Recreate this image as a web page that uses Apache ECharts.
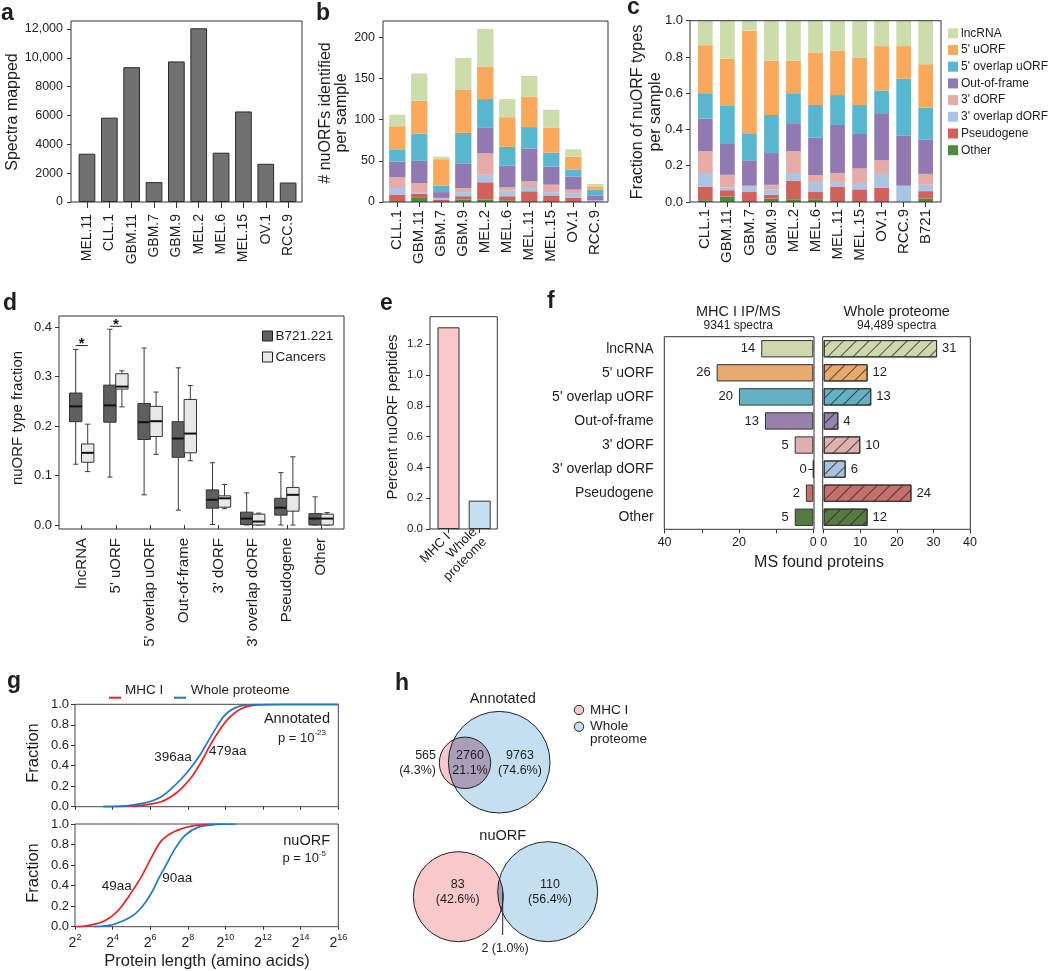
<!DOCTYPE html>
<html>
<head>
<meta charset="utf-8">
<script src="https://cdn.jsdelivr.net/npm/echarts@6.0.0/dist/echarts.min.js"></script>
<style>html,body{margin:0;padding:0;background:#fff;}#chart{width:1050px;height:971px;}</style>
</head>
<body>
<div id="chart"></div>
<script>
// ================= DATA =================
// (a) spectra mapped per sample
const samplesA = ['MEL.11','CLL.1','GBM.11','GBM.7','GBM.9','MEL.2','MEL.6','MEL.15','OV.1','RCC.9'];
const spectraMapped = [3350, 5850, 9350, 1380, 9750, 12050, 3420, 6280, 2650, 1350];
const ticksA = [0, 2000, 4000, 6000, 8000, 10000, 12000];

// nuORF types
const orfTypes = ['lncRNA', "5' uORF", "5' overlap uORF", 'Out-of-frame', "3' dORF", "3' overlap dORF", 'Pseudogene', 'Other'];

// (b) nuORFs identified per sample (counts by type)
const samplesB = ['CLL.1','GBM.11','GBM.7','GBM.9','MEL.2','MEL.6','MEL.11','MEL.15','OV.1','RCC.9'];
const countLnc    = [14, 33,  3, 39, 46, 22, 25, 22,  9, 3];
const count5u     = [28, 40, 32, 52, 39, 36, 37, 30, 16, 4];
const count5ov    = [15, 33,  8, 37, 35, 23, 26, 17,  8, 7];
const countOOF    = [19, 27,  7, 30, 31, 26, 40, 22, 16, 6];
const count3d     = [13, 11,  0,  5, 26,  4,  8,  9,  5, 0];
const count3ov    = [ 8,  2,  2,  5,  9,  7,  4,  4,  5, 2];
const countPseudo = [ 8,  5,  3,  4, 21,  5, 12,  8,  5, 0];
const countOther  = [ 1,  5,  0,  3,  3,  2,  1,  0,  0, 0];
const ticksB = [0, 50, 100, 150, 200];

// (c) fraction of nuORF types per sample
const samplesC = ['CLL.1','GBM.11','GBM.7','GBM.9','MEL.2','MEL.6','MEL.11','MEL.15','OV.1','RCC.9','B721'];
const fracLnc    = [0.135, 0.21, 0.055, 0.22, 0.22, 0.175, 0.165, 0.205, 0.14, 0.14, 0.24];
const frac5u     = [0.265, 0.26, 0.57, 0.30, 0.18, 0.29, 0.245, 0.26, 0.245, 0.18, 0.24];
const frac5ov    = [0.14, 0.21, 0.145, 0.21, 0.17, 0.18, 0.165, 0.16, 0.125, 0.315, 0.175];
const fracOOF    = [0.18, 0.17, 0.14, 0.175, 0.15, 0.207, 0.265, 0.19, 0.26, 0.275, 0.19];
const frac3d     = [0.12, 0.07, 0, 0.025, 0.12, 0.038, 0.05, 0.08, 0.075, 0, 0.06];
const frac3ov    = [0.075, 0.015, 0.035, 0.03, 0.042, 0.055, 0.025, 0.035, 0.077, 0.09, 0.035];
const fracPseudo = [0.075, 0.035, 0.055, 0.022, 0.103, 0.04, 0.08, 0.07, 0.078, 0, 0.04];
const fracOther  = [0.01, 0.03, 0, 0.018, 0.015, 0.015, 0.005, 0, 0, 0, 0.02];

// (d) boxplots [min, Q1, median, Q3, max]
const boxGroups = ['B721.221', 'Cancers'];
const boxB721 = [
  [0.123, 0.209, 0.240, 0.267, 0.355],
  [0.097, 0.208, 0.242, 0.283, 0.396],
  [0.061, 0.173, 0.208, 0.246, 0.358],
  [0.030, 0.137, 0.175, 0.209, 0.318],
  [0.001, 0.034, 0.051, 0.071, 0.126],
  [0.000, 0.001, 0.013, 0.026, 0.065],
  [0.000, 0.020, 0.035, 0.054, 0.106],
  [0.000, 0.000, 0.013, 0.023, 0.057]
];
const boxCancers = [
  [0.108, 0.127, 0.146, 0.164, 0.204],
  [0.239, 0.275, 0.280, 0.306, 0.312],
  [0.143, 0.179, 0.210, 0.240, 0.269],
  [0.130, 0.146, 0.185, 0.254, 0.282],
  [0.033, 0.036, 0.054, 0.059, 0.082],
  [0.000, 0.000, 0.007, 0.022, 0.024],
  [0.000, 0.028, 0.061, 0.076, 0.138],
  [0.000, 0.000, 0.013, 0.022, 0.025]
];
const sigMarks = [[0, 0.363], [1, 0.402]];   // [type index, bracket height]

// (e) percent nuORF peptides
const eCats = ['MHC I', 'Whole\nproteome'];
const eValues = [1.31, 0.184];
const ticksE = [0, 0.2, 0.4, 0.6, 0.8, 1.0, 1.2];

// (f) MS found proteins
const fMHC   = [14, 26, 20, 13, 5, 0, 2, 5];
const fWhole = [31, 12, 13, 4, 10, 6, 24, 12];
const fTitles = ['MHC I IP/MS', 'Whole proteome'];
const fSpectra = ['9341 spectra', '94,489 spectra'];

// (g) cumulative protein length distributions, x = log2(length)
const gAnnotMHC = [[3.5,0],[4.5,0.002],[5.2,0.008],[6,0.025],[6.61,0.05],[7.2,0.11],[7.67,0.18],[8.2,0.29],[8.56,0.39],[8.9,0.5],[9.09,0.57],[9.62,0.73],[10.15,0.86],[10.86,0.96],[11.7,0.995],[13,1],[16,1]];
const gAnnotWhole = [[3.5,0],[4.2,0.003],[4.84,0.01],[5.5,0.03],[6.08,0.056],[6.6,0.1],[7.14,0.18],[7.7,0.28],[8.2,0.39],[8.63,0.5],[8.91,0.586],[9.44,0.75],[9.97,0.895],[10.68,0.977],[11.57,0.998],[13,1],[16,1]];
const gNuMHC = [[2,0],[2.5,0.005],[3.06,0.025],[3.5,0.05],[3.95,0.1],[4.4,0.18],[4.84,0.29],[5.2,0.39],[5.54,0.49],[6.08,0.68],[6.61,0.84],[7.32,0.93],[8.2,0.98],[9.09,0.997],[10,1]];
const gNuWhole = [[3,0],[3.6,0.008],[4.13,0.026],[5.01,0.1],[5.4,0.16],[5.72,0.23],[6.1,0.34],[6.45,0.47],[6.78,0.58],[7.32,0.76],[7.85,0.89],[8.56,0.97],[9.44,0.995],[10.6,1]];
const gMedians = ['396aa', '479aa', '49aa', '90aa'];
const gPExp = ['-23', '-5'];
const gPanels = ['Annotated', 'nuORF'];

// (h) Venn counts
const vennTitles = ['Annotated', 'nuORF'];
const vennMHCOnly = [565, 83];
const vennBoth = [2760, 2];
const vennWholeOnly = [9763, 110];
const vennPctMHCOnly = ['(4.3%)', '(42.6%)'];
const vennPctBoth = ['21.1%', '(1.0%)'];
const vennPctWholeOnly = ['(74.6%)', '(56.4%)'];

// ================= STYLE / LAYOUT =================
const FONT = "'Liberation Sans', Arial, Helvetica, sans-serif";
const TXT = '#1e1e1e';
const AX = '#333';
const colBC = ['#cddcab', '#f8a95c', '#58b7cf', '#9179b2', '#e6aaa7', '#a9c5e3', '#d1625b', '#4f8b3f'];
const colF  = ['#cdd9ac', '#e8a96c', '#65b1c4', '#9682ad', '#e0b0ae', '#a9c2dd', '#c66f6b', '#567b40'];
const PINK = '#f8c8cb', BLUE = '#c3dff0', OVER = '#aa9fbb';

// Venn layout (grid units == px inside h grid)
const VENN_LAYOUT = [
  { pink: [85, 82.8, 25.7], blue: [119.2, 82.2, 50.8], title: [122.7, 19],
    mhcLbl: [56, 82.8, 'right'], bothLbl: [90, 82.8], wholeLbl: [140, 82.8], sep: '\n', leader: null },
  { pink: [78.3, 216.7, 45], blue: [167.7, 211.7, 50], title: [122.7, 156],
    mhcLbl: [77.7, 212.2, 'center'], bothLbl: [125, 268.3], wholeLbl: [170, 212.2], sep: ' ', leader: [[122.7, 211.7], [122.7, 255]] }
];

function T(x, y, text, size, o) {
  o = o || {};
  return {
    type: 'text', x: x, y: y, z: 120, silent: true, rotation: o.rot || 0,
    style: {
      text: text, fill: o.color || TXT, fontSize: size, fontFamily: FONT,
      fontWeight: o.bold ? 'bold' : 'normal',
      align: o.align || 'center', verticalAlign: o.va || 'middle',
      textAlign: o.align || 'center', textVerticalAlign: o.va || 'middle',
      lineHeight: o.lh, rich: o.rich
    }
  };
}
function F(x, y, w, h) {
  return { type: 'rect', z: 110, silent: true, shape: { x: x, y: y, width: w, height: h },
    style: { fill: 'rgba(0,0,0,0)', stroke: AX, lineWidth: 1 } };
}
function L(x1, y1, x2, y2, c, w) {
  return { type: 'line', z: 110, silent: true, shape: { x1: x1, y1: y1, x2: x2, y2: y2 },
    style: { stroke: c, lineWidth: w || 1 } };
}
function letter(x, base, ch) { return T(x, base + 5, ch, 23, { bold: true, align: 'left', va: 'bottom' }); }

function catAxis(gi, data, o) {
  return {
    type: 'category', gridIndex: gi, data: data, offset: o.offset || 0, inverse: !!o.inverse,
    position: o.position,
    axisLine: { show: false }, splitLine: { show: false },
    axisTick: { show: o.tick !== false, alignWithLabel: true, length: o.tickLen || 5, lineStyle: { color: AX } },
    axisLabel: { show: o.label !== false, rotate: o.rotate || 0, fontSize: o.fs || 13, fontFamily: FONT,
      color: TXT, margin: o.margin || 8, interval: 0, lineHeight: o.lh }
  };
}
function valAxis(gi, o) {
  const ax = {
    type: 'value', gridIndex: gi, min: o.min, max: o.max, offset: o.offset || 0, inverse: !!o.inverse,
    position: o.position,
    axisLine: { show: false }, splitLine: { show: false },
    axisTick: { show: o.tick !== false, length: o.tickLen || 4, lineStyle: { color: AX } },
    axisLabel: { show: o.label !== false, fontSize: o.fs || 12, fontFamily: FONT, color: TXT,
      margin: o.margin || 7, formatter: o.fmt, rich: o.rich }
  };
  if (o.interval != null) ax.interval = o.interval;
  if (o.ticks) ax.axisTick.customValues = o.ticks;
  if (o.labels) ax.axisLabel.customValues = o.labels;
  return ax;
}
const f1 = v => Number(v).toFixed(1);

// ================= GRIDS =================
const grids = [
  { left: 75.8, top: 21, width: 223.5, height: 181 },      // 0 a
  { left: 386.3, top: 21, width: 220, height: 181 },       // 1 b
  { left: 694.3, top: 20.7, width: 242.4, height: 181.3 }, // 2 c
  { left: 64.6, top: 327.3, width: 273.6, height: 197.7 }, // 3 d
  { left: 432.9, top: 316.7, width: 62.4, height: 212.3 }, // 4 e
  { left: 664.6, top: 336.7, width: 148.7, height: 192.6 },// 5 f left
  { left: 823.7, top: 336.7, width: 146.3, height: 192.6 },// 6 f right
  { left: 75, top: 704.3, width: 263.3, height: 102.4, show: true, borderColor: '#444', borderWidth: 1 }, // 7 g top
  { left: 75, top: 824, width: 263.3, height: 102.7, show: true, borderColor: '#444', borderWidth: 1 },   // 8 g bottom
  { left: 380, top: 680, width: 260, height: 280 }         // 9 h
];

const gRich = {
  b: { fontSize: 14, fontFamily: FONT, color: TXT, lineHeight: 17, verticalAlign: 'bottom' },
  s: { fontSize: 9, fontFamily: FONT, color: TXT, lineHeight: 9, verticalAlign: 'top' }
};

const xAxes = [
  catAxis(0, samplesA, { rotate: 90, fs: 14, margin: 12, tickLen: 6 }),
  catAxis(1, samplesB, { rotate: 90, fs: 15, margin: 8, tickLen: 5 }),
  catAxis(2, samplesC, { rotate: 90, fs: 15, margin: 7, tickLen: 5 }),
  catAxis(3, orfTypes, { rotate: 90, fs: 15, margin: 9, tickLen: 4, offset: 4 }),
  catAxis(4, eCats, { rotate: 45, fs: 13, margin: 6, tickLen: 4, lh: 14 }),
  valAxis(5, { min: 0, max: 40, inverse: true, ticks: [0, 10, 20, 30, 40], labels: [0, 20, 40], fs: 12.5, margin: 7 }),
  valAxis(6, { min: 0, max: 40, interval: 10, fs: 12.5, margin: 7 }),
  valAxis(7, { min: 2, max: 16, interval: 2, label: false, tickLen: 3 }),
  valAxis(8, { min: 2, max: 16, interval: 2, tickLen: 3, margin: 6, fmt: v => '{b|2}{s|' + v + '}', rich: gRich }),
  { type: 'value', gridIndex: 9, min: 0, max: 260, show: false }
];
const yAxes = [
  valAxis(0, { min: 0, max: 12555, ticks: ticksA, labels: ticksA, offset: 4.8, fs: 12.5, margin: 8,
    fmt: v => v >= 10000 ? Number(v).toLocaleString('en-US') : String(v) }),
  valAxis(1, { min: 0, max: 219.8, ticks: ticksB, labels: ticksB, offset: 3.3, fs: 12.5, margin: 8 }),
  valAxis(2, { min: 0, max: 1, interval: 0.2, offset: 4.3, fs: 13, margin: 7, fmt: f1 }),
  valAxis(3, { min: 0, max: 0.4, interval: 0.1, offset: 5.6, fs: 13, margin: 7, fmt: f1 }),
  valAxis(4, { min: 0, max: 1.379, ticks: ticksE, labels: ticksE, offset: 2.9, fs: 11.5, margin: 7, fmt: f1 }),
  catAxis(5, orfTypes, { inverse: true, fs: 14, margin: 11, tickLen: 5 }),
  catAxis(6, orfTypes, { inverse: true, label: false, tick: false }),
  valAxis(7, { min: 0, max: 1, interval: 0.2, fs: 13, margin: 6, fmt: f1 }),
  valAxis(8, { min: 0, max: 1, interval: 0.2, fs: 13, margin: 6, fmt: f1 }),
  { type: 'value', gridIndex: 9, min: 0, max: 280, inverse: true, show: false }
];

// ================= SERIES =================
const series = [];
// a
series.push({ type: 'bar', name: 'Spectra mapped', xAxisIndex: 0, yAxisIndex: 0, data: spectraMapped, barWidth: 16.7,
  itemStyle: { color: '#717171', borderColor: '#2a2a2a', borderWidth: 1 } });
// b (stack bottom -> top: Other ... lncRNA)
const countsB = [countLnc, count5u, count5ov, countOOF, count3d, count3ov, countPseudo, countOther];
for (let i = orfTypes.length - 1; i >= 0; i--) {
  series.push({ type: 'bar', name: orfTypes[i], stack: 'b', xAxisIndex: 1, yAxisIndex: 1, data: countsB[i],
    barWidth: 16.3, itemStyle: { color: colBC[i] } });
}
// c
const fracsC = [fracLnc, frac5u, frac5ov, fracOOF, frac3d, frac3ov, fracPseudo, fracOther];
for (let i = orfTypes.length - 1; i >= 0; i--) {
  series.push({ type: 'bar', name: orfTypes[i], stack: 'c', xAxisIndex: 2, yAxisIndex: 2, data: fracsC[i],
    barWidth: 14.7, itemStyle: { color: colBC[i] } });
}
// d boxplots (custom)
function boxRender(offset) {
  return function (params, api) {
    const idx = api.value(0);
    const v = [api.value(1), api.value(2), api.value(3), api.value(4), api.value(5)];
    const x = api.coord([idx, v[2]])[0] + offset;
    const y = v.map(val => api.coord([idx, val])[1]);
    const hw = 6.2, cap = 2.6;
    const ls = { stroke: '#3a3a3a', lineWidth: 1 };
    const fill = api.visual('color');
    return { type: 'group', children: [
      { type: 'line', shape: { x1: x, y1: y[4], x2: x, y2: y[0] }, style: ls },
      { type: 'line', shape: { x1: x - cap, y1: y[4], x2: x + cap, y2: y[4] }, style: ls },
      { type: 'line', shape: { x1: x - cap, y1: y[0], x2: x + cap, y2: y[0] }, style: ls },
      { type: 'rect', shape: { x: x - hw, y: y[3], width: 2 * hw, height: Math.max(y[1] - y[3], 0.5) },
        style: { fill: fill, stroke: '#333', lineWidth: 1 } },
      { type: 'line', shape: { x1: x - hw, y1: y[2], x2: x + hw, y2: y[2] }, style: { stroke: '#111', lineWidth: 2 } }
    ] };
  };
}
series.push({ type: 'custom', name: boxGroups[0], xAxisIndex: 3, yAxisIndex: 3,
  data: boxB721.map((d, i) => [i].concat(d)), encode: { x: 0, y: [1, 2, 3, 4, 5] },
  itemStyle: { color: '#5f5f5f' }, renderItem: boxRender(-6) });
series.push({ type: 'custom', name: boxGroups[1], xAxisIndex: 3, yAxisIndex: 3,
  data: boxCancers.map((d, i) => [i].concat(d)), encode: { x: 0, y: [1, 2, 3, 4, 5] },
  itemStyle: { color: '#e8e8e8' }, renderItem: boxRender(6) });
series.push({ type: 'custom', name: 'sig', xAxisIndex: 3, yAxisIndex: 3, data: sigMarks, encode: { x: 0, y: 1 },
  renderItem: function (params, api) {
    const c = api.coord([api.value(0), api.value(1)]);
    return { type: 'group', children: [
      { type: 'line', shape: { x1: c[0] - 6, y1: c[1], x2: c[0] + 6, y2: c[1] }, style: { stroke: '#222', lineWidth: 1 } },
      { type: 'text', x: c[0], y: c[1] - 1.5, style: { text: '*', fontSize: 15, fontWeight: 'bold', fontFamily: FONT,
        fill: '#111', align: 'center', verticalAlign: 'middle' } }
    ] };
  } });
// e
const eColors = [PINK, BLUE];
series.push({ type: 'bar', name: 'Percent nuORF peptides', xAxisIndex: 4, yAxisIndex: 4, barWidth: 22,
  data: eValues.map((v, i) => ({ value: v, itemStyle: { color: eColors[i], borderColor: '#333', borderWidth: 1 } })) });
// f
series.push({ type: 'bar', name: fTitles[0], xAxisIndex: 5, yAxisIndex: 5, barWidth: 17.3,
  data: fMHC.map((v, i) => ({ value: v, itemStyle: { color: colF[i], borderColor: '#333', borderWidth: 1 } })),
  label: { show: true, position: 'left', distance: 6, fontSize: 13, fontFamily: FONT, color: TXT } });
series.push({ type: 'bar', name: fTitles[1], xAxisIndex: 6, yAxisIndex: 6, barWidth: 17.3,
  data: fWhole.map((v, i) => ({ value: v, itemStyle: { color: colF[i], borderColor: '#333', borderWidth: 1,
    decal: { symbol: 'rect', symbolSize: 1, dashArrayX: [1, 0], dashArrayY: [1, 7.7], rotation: -Math.PI / 4,
      color: 'rgba(35,35,35,0.75)' } } })),
  label: { show: true, position: 'right', distance: 5, fontSize: 13, fontFamily: FONT, color: TXT } });
// g
const RED = '#ee1f26', BLU = '#1f78c6';
function gLine(name, data, xi, color) {
  return { type: 'line', name: name, xAxisIndex: xi, yAxisIndex: xi, data: data, showSymbol: false, symbol: 'none',
    smooth: 0.3, lineStyle: { color: color, width: 1.7 }, itemStyle: { color: color }, z: 3 };
}
series.push(gLine('MHC I', gAnnotMHC, 7, RED));
series.push(gLine('Whole proteome', gAnnotWhole, 7, BLU));
series.push(gLine('MHC I', gNuMHC, 8, RED));
series.push(gLine('Whole proteome', gNuWhole, 8, BLU));

// h Venn (custom)
function arcPts(c, r, pa, pb, towards) {
  const norm = a => { while (a < 0) a += 2 * Math.PI; while (a >= 2 * Math.PI) a -= 2 * Math.PI; return a; };
  const a1 = Math.atan2(pa[1] - c[1], pa[0] - c[0]);
  const a2 = Math.atan2(pb[1] - c[1], pb[0] - c[0]);
  const at = Math.atan2(towards[1] - c[1], towards[0] - c[0]);
  const span = norm(a2 - a1), tpos = norm(at - a1);
  let dir = 1, total = span;
  if (tpos > span) { dir = -1; total = 2 * Math.PI - span; }
  const pts = [];
  for (let i = 0; i <= 48; i++) { const t = a1 + dir * total * i / 48; pts.push([c[0] + r * Math.cos(t), c[1] + r * Math.sin(t)]); }
  return pts;
}
function lensPts(c1, r1, c2, r2) {
  const dx = c2[0] - c1[0], dy = c2[1] - c1[1], d = Math.hypot(dx, dy);
  const a = (r1 * r1 - r2 * r2 + d * d) / (2 * d), h = Math.sqrt(Math.max(r1 * r1 - a * a, 0));
  const mx = c1[0] + a * dx / d, my = c1[1] + a * dy / d;
  const p1 = [mx + h * dy / d, my - h * dx / d], p2 = [mx - h * dy / d, my + h * dx / d];
  return arcPts(c1, r1, p1, p2, c2).concat(arcPts(c2, r2, p2, p1, c1));
}
series.push({ type: 'custom', name: 'venn', xAxisIndex: 9, yAxisIndex: 9, data: [[0, 0], [1, 0]], encode: { x: 0, y: 1 },
  renderItem: function (params, api) {
    const k = params.dataIndex, Lk = VENN_LAYOUT[k];
    const pc = api.coord([Lk.pink[0], Lk.pink[1]]), bc = api.coord([Lk.blue[0], Lk.blue[1]]);
    const pr = api.size([Lk.pink[2], 0])[0], br = api.size([Lk.blue[2], 0])[0];
    const tx = (p, text, al, fs) => { const c = api.coord([p[0], p[1]]);
      return { type: 'text', x: c[0], y: c[1], style: { text: text, fontSize: fs || 12.5, fontFamily: FONT, fill: TXT,
        align: al || 'center', verticalAlign: 'middle', lineHeight: 15.5 } }; };
    const ch = [
      { type: 'circle', shape: { cx: pc[0], cy: pc[1], r: pr }, style: { fill: PINK } },
      { type: 'circle', shape: { cx: bc[0], cy: bc[1], r: br }, style: { fill: BLUE } },
      { type: 'polygon', shape: { points: lensPts(pc, pr, bc, br) }, style: { fill: OVER } },
      { type: 'circle', shape: { cx: pc[0], cy: pc[1], r: pr }, style: { fill: 'rgba(0,0,0,0)', stroke: '#222', lineWidth: 1 } },
      { type: 'circle', shape: { cx: bc[0], cy: bc[1], r: br }, style: { fill: 'rgba(0,0,0,0)', stroke: '#222', lineWidth: 1 } },
      tx(Lk.title, vennTitles[k], 'center', 14.5),
      tx(Lk.mhcLbl, vennMHCOnly[k] + '\n' + vennPctMHCOnly[k], Lk.mhcLbl[2]),
      tx(Lk.bothLbl, vennBoth[k] + Lk.sep + vennPctBoth[k]),
      tx(Lk.wholeLbl, vennWholeOnly[k] + '\n' + vennPctWholeOnly[k])
    ];
    if (Lk.leader) {
      const a = api.coord(Lk.leader[0]), b = api.coord(Lk.leader[1]);
      ch.push({ type: 'line', shape: { x1: a[0], y1: a[1], x2: b[0], y2: b[1] }, style: { stroke: '#222', lineWidth: 1 } });
    }
    return { type: 'group', children: ch };
  } });

// ================= GRAPHIC (frames, titles, letters) =================
const pRich = () => ({
  n: { fontSize: 13, fontFamily: FONT, fill: TXT, lineHeight: 16, verticalAlign: 'bottom' },
  s: { fontSize: 8, fontFamily: FONT, fill: TXT, lineHeight: 8, verticalAlign: 'top' }
});
const R90 = Math.PI / 2;
const graphic = [
  F(71, 21, 231, 181), F(383, 21, 225, 181), F(690, 20.7, 251, 181.3), F(59, 316, 285, 213),
  F(430, 316.7, 67.3, 212.3), F(664.3, 336.7, 149.7, 192.6), F(822.7, 336.7, 147.6, 192.6),
  letter(1, 20, 'a'), letter(316, 20, 'b'), letter(627, 14, 'c'), letter(3, 310, 'd'),
  letter(380, 310, 'e'), letter(547, 308, 'f'), letter(7, 688, 'g'), letter(395, 690, 'h'),
  T(13, 112, 'Spectra mapped', 16, { rot: R90 }),
  T(334, 113, '# nuORFs identified\nper sample', 16, { rot: R90, lh: 16 }),
  T(647, 112, 'Fraction of nuORF types\nper sample', 16, { rot: R90, lh: 18 }),
  T(18, 418, 'nuORF type fraction', 15, { rot: R90 }),
  T(393, 417, 'Percent nuORF peptides', 15, { rot: R90 }),
  T(738.3, 312, fTitles[0], 14.5), T(738.3, 326, fSpectra[0], 12),
  T(896.7, 312, fTitles[1], 14.5), T(896.7, 326, fSpectra[1], 12),
  T(819, 563, 'MS found proteins', 16),
  T(33, 753, 'Fraction', 16.5, { rot: R90 }), T(33, 873, 'Fraction', 16.5, { rot: R90 }),
  T(207, 961, 'Protein length (amino acids)', 16.5),
  L(109, 697.7, 121, 697.7, RED, 2), T(125, 690, 'MHC I', 13.5, { align: 'left' }),
  L(174, 697.7, 186, 697.7, BLU, 2), T(190.7, 690, 'Whole proteome', 13.5, { align: 'left' }),
  T(330, 719, gPanels[0], 14.5, { align: 'right' }),
  T(326, 737, '{n|p = 10}{s|' + gPExp[0] + '}', 13, { align: 'right', rich: pRich() }),
  T(173, 757.3, gMedians[0], 13.5), T(227.7, 751.7, gMedians[1], 13.5),
  T(330, 840.7, gPanels[1], 14.5, { align: 'right' }),
  T(326, 857.3, '{n|p = 10}{s|' + gPExp[1] + '}', 13, { align: 'right', rich: pRich() }),
  T(116.7, 886.7, gMedians[2], 13.5), T(177.3, 878.3, gMedians[3], 13.5),
  { type: 'circle', z: 120, silent: true, shape: { cx: 579, cy: 710, r: 4.7 }, style: { fill: PINK, stroke: '#222', lineWidth: 1 } },
  { type: 'circle', z: 120, silent: true, shape: { cx: 579, cy: 726.7, r: 4.7 }, style: { fill: BLUE, stroke: '#222', lineWidth: 1 } },
  T(590, 710, 'MHC I', 13.5, { align: 'left' }),
  T(590, 720.5, 'Whole\nproteome', 13.5, { align: 'left', va: 'top', lh: 12.4 })
];

const option = {
  animation: false,
  backgroundColor: '#ffffff',
  textStyle: { fontFamily: FONT, color: TXT },
  grid: grids,
  xAxis: xAxes,
  yAxis: yAxes,
  legend: [
    { data: orfTypes, orient: 'vertical', left: 948, top: 27.3, itemWidth: 10, itemHeight: 10, itemGap: 4.7,
      icon: 'rect', selectedMode: false, padding: 0,
      textStyle: { fontSize: 12, fontFamily: FONT, color: TXT, lineHeight: 10, padding: [0, 0, 0, -2] } },
    { data: boxGroups, orient: 'vertical', left: 262, top: 329, itemWidth: 10, itemHeight: 10, itemGap: 7,
      icon: 'rect', selectedMode: false, padding: 0,
      itemStyle: { borderColor: '#222', borderWidth: 1 },
      textStyle: { fontSize: 13.5, fontFamily: FONT, color: TXT, lineHeight: 10, padding: [0, 0, 0, -2] } }
  ],
  series: series,
  graphic: graphic
};

const chart = echarts.init(document.getElementById('chart'), null, { renderer: 'canvas', width: 1050, height: 971 });
chart.setOption(option);
</script>
</body>
</html>
